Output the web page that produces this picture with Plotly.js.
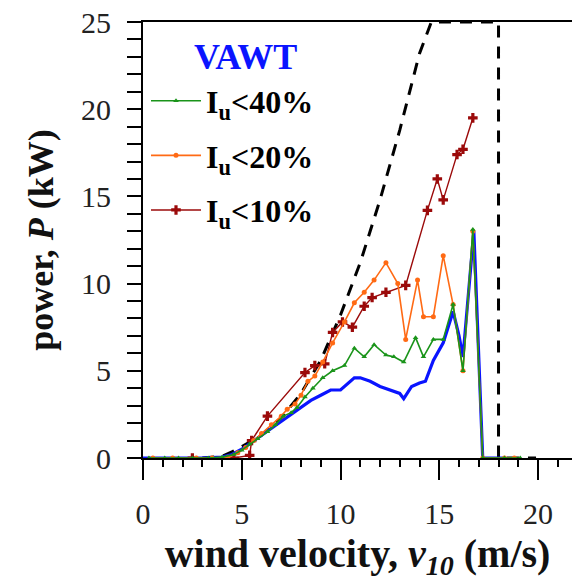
<!DOCTYPE html>
<html>
<head>
<meta charset="utf-8">
<script src="https://cdn.plot.ly/plotly-3.0.1.min.js"></script>
<style>html,body{margin:0;padding:0;background:#fff;}#chart{width:572px;height:584px;}</style>
</head>
<body>
<div id="chart"></div>
<script>
// Theoretical power curve (black dashed)
var vTheory = [3.0, 4.0, 4.5, 5.0, 6.0, 7.0, 8.0, 9.0, 10.0, 11.0, 12.0, 13.0, 14.0, 14.6, 18.0, 18.0, 19.9];
var pTheory = [0, 0.1, 0.35, 0.65, 1.3, 2.3, 3.7, 5.6, 8.2, 11.2, 14.8, 18.8, 23.2, 25, 25, 0, 0];

// VAWT all data (blue)
var vAll = [0, 1, 2, 3, 4, 4.5, 5, 5.5, 6, 6.5, 7, 7.5, 8, 8.5, 9, 9.5, 10, 10.3, 10.7, 11, 11.5, 12, 12.5, 13, 13.2, 13.6, 14, 14.3, 14.7, 15.2, 15.7, 16.0, 16.2, 16.5, 16.75, 17.2, 18.4];
var pAll = [0, 0, 0, 0, 0.05, 0.2, 0.5, 0.9, 1.3, 1.7, 2.1, 2.5, 2.9, 3.3, 3.6, 3.9, 3.9, 4.2, 4.6, 4.6, 4.4, 4.1, 3.9, 3.7, 3.4, 4.1, 4.3, 4.4, 5.6, 6.6, 8.4, 7.0, 5.8, 9.5, 13.0, 0, 0];

// Iu < 40% (green)
var v40 = [0.3, 1.1, 1.8, 2.5, 3.3, 4.0, 4.6, 5.0, 5.4, 5.8, 6.3, 6.7, 7.1, 7.5, 7.8, 8.2, 8.6, 9.1, 9.6, 10.2, 10.7, 11.2, 11.7, 12.3, 12.7, 13.2, 13.8, 14.2, 14.7, 15.2, 15.7, 16.2, 16.7, 17.2, 18.3, 19.1];
var p40 = [0, 0, 0, 0, 0, 0.05, 0.2, 0.45, 0.8, 1.1, 1.5, 1.9, 2.4, 2.6, 2.9, 3.5, 4.0, 4.6, 5.0, 5.3, 6.3, 5.8, 6.5, 5.9, 5.8, 5.5, 6.9, 5.8, 6.8, 6.8, 8.8, 5.0, 13.1, 0, 0, 0];

// Iu < 20% (orange)
var v20 = [0.5, 1.5, 2.7, 3.5, 4.3, 4.8, 5.2, 5.6, 6.0, 6.5, 7.0, 7.3, 7.7, 8.0, 8.35, 8.7, 9.1, 9.6, 10.2, 10.7, 11.2, 11.7, 12.3, 12.9, 13.3, 13.9, 14.2, 14.7, 15.2, 15.7, 16.2, 16.7, 17.2, 18.3, 18.8];
var p20 = [0, 0, 0, 0, 0.05, 0.3, 0.6, 1.0, 1.4, 1.9, 2.4, 2.8, 3.1, 3.6, 4.4, 4.7, 5.5, 6.6, 7.8, 8.9, 9.5, 10.2, 11.2, 10.0, 6.8, 10.2, 8.1, 8.1, 11.6, 8.8, 5.0, 13.0, 0, 0, 0];

// Iu < 10% (dark red)
var v10 = [2.5, 4.6, 5.4, 5.5, 6.3, 8.2, 8.7, 9.2, 9.6, 10.1, 10.6, 11.2, 11.6, 12.3, 13.3, 14.4, 14.9, 15.2, 15.9, 16.2, 16.7];
var p10 = [0, 0, 0.15, 1.0, 2.4, 4.9, 5.3, 5.4, 7.2, 7.8, 7.5, 8.7, 9.2, 9.5, 9.9, 14.2, 16.0, 14.8, 17.4, 17.7, 19.5];

var seriesNames = ['I<sub>u</sub>&lt;40%', 'I<sub>u</sub>&lt;20%', 'I<sub>u</sub>&lt;10%'];
var xTickVals = [0, 5, 10, 15, 20];
var yTickVals = [0, 5, 10, 15, 20, 25];

var serif = 'Liberation Serif, Times New Roman, serif';

var traces = [
  {x: vTheory, y: pTheory, mode: 'lines', showlegend: false,
   line: {color: '#000', width: 3, dash: '12px,9px'}},
  {x: vAll, y: pAll, mode: 'lines', showlegend: false,
   line: {color: '#0a14ff', width: 3.2}},
  {x: v10, y: p10, mode: 'lines+markers', name: seriesNames[2], legendgroup: 'c', legendrank: 3,
   line: {color: '#9b0a0a', width: 1.4},
   marker: {symbol: 'cross', size: 8, color: '#9b0a0a'}},
  {x: v20, y: p20, mode: 'lines+markers', name: seriesNames[1], legendgroup: 'b', legendrank: 2,
   line: {color: '#ff6a14', width: 1.6},
   marker: {symbol: 'circle', size: 5, color: '#ff6a14'}},
  {x: v40, y: p40, mode: 'lines+markers', name: seriesNames[0], legendgroup: 'a', legendrank: 1,
   line: {color: '#1a941a', width: 1.6},
   marker: {symbol: 'triangle-up', size: 5, color: '#1a941a'}}
];

var layout = {
  width: 572, height: 584,
  margin: {l: 143, r: 0, t: 22, b: 126},
  paper_bgcolor: '#fff', plot_bgcolor: '#fff',
  showlegend: true,
  legend: {x: 0.007, y: 0.882, xanchor: 'left', yanchor: 'top',
           bgcolor: 'rgba(0,0,0,0)', tracegroupgap: 10, itemwidth: 50,
           font: {family: serif, size: 32, color: '#000', weight: 'bold'}},
  xaxis: {
    range: [0, 21.72], showgrid: false, zeroline: false,
    showline: true, linecolor: '#000', linewidth: 2, mirror: true,
    ticks: 'outside', ticklen: 20, tickwidth: 2, tickcolor: '#000',
    tickvals: xTickVals, ticktext: xTickVals.map(String),
    minor: {dtick: 1, ticks: 'outside', ticklen: 7, tickwidth: 2, tickcolor: '#000'},
    tickfont: {family: serif, size: 30, color: '#222'},
    ticklabelstandoff: 8,
    title: {text: 'wind velocity, <i>v<sub>10</sub></i> (m/s)', standoff: 10,
            font: {family: serif, size: 40, color: '#111', weight: 'bold'}}
  },
  yaxis: {
    range: [0, 25], showgrid: false, zeroline: false,
    showline: true, linecolor: '#000', linewidth: 2, mirror: false,
    ticks: 'outside', ticklen: 14, tickwidth: 2, tickcolor: '#000',
    tickvals: yTickVals, ticktext: yTickVals.map(String),
    minor: {dtick: 1, ticks: 'outside', ticklen: 14, tickwidth: 2, tickcolor: '#000'},
    tickfont: {family: serif, size: 30, color: '#222'},
    ticklabelstandoff: 10,
    title: {text: 'power, <i>P</i> (kW)', standoff: 16,
            font: {family: serif, size: 36, color: '#111', weight: 'bold'}}
  },
  annotations: [{
    text: 'VAWT', xref: 'paper', yref: 'paper', x: 0.238, y: 0.92,
    xanchor: 'center', yanchor: 'middle', showarrow: false,
    font: {family: serif, size: 36, color: '#0a14ff', weight: 'bold'}
  }]
};

Plotly.newPlot('chart', traces, layout, {displayModeBar: false, staticPlot: true});
</script>
</body>
</html>
